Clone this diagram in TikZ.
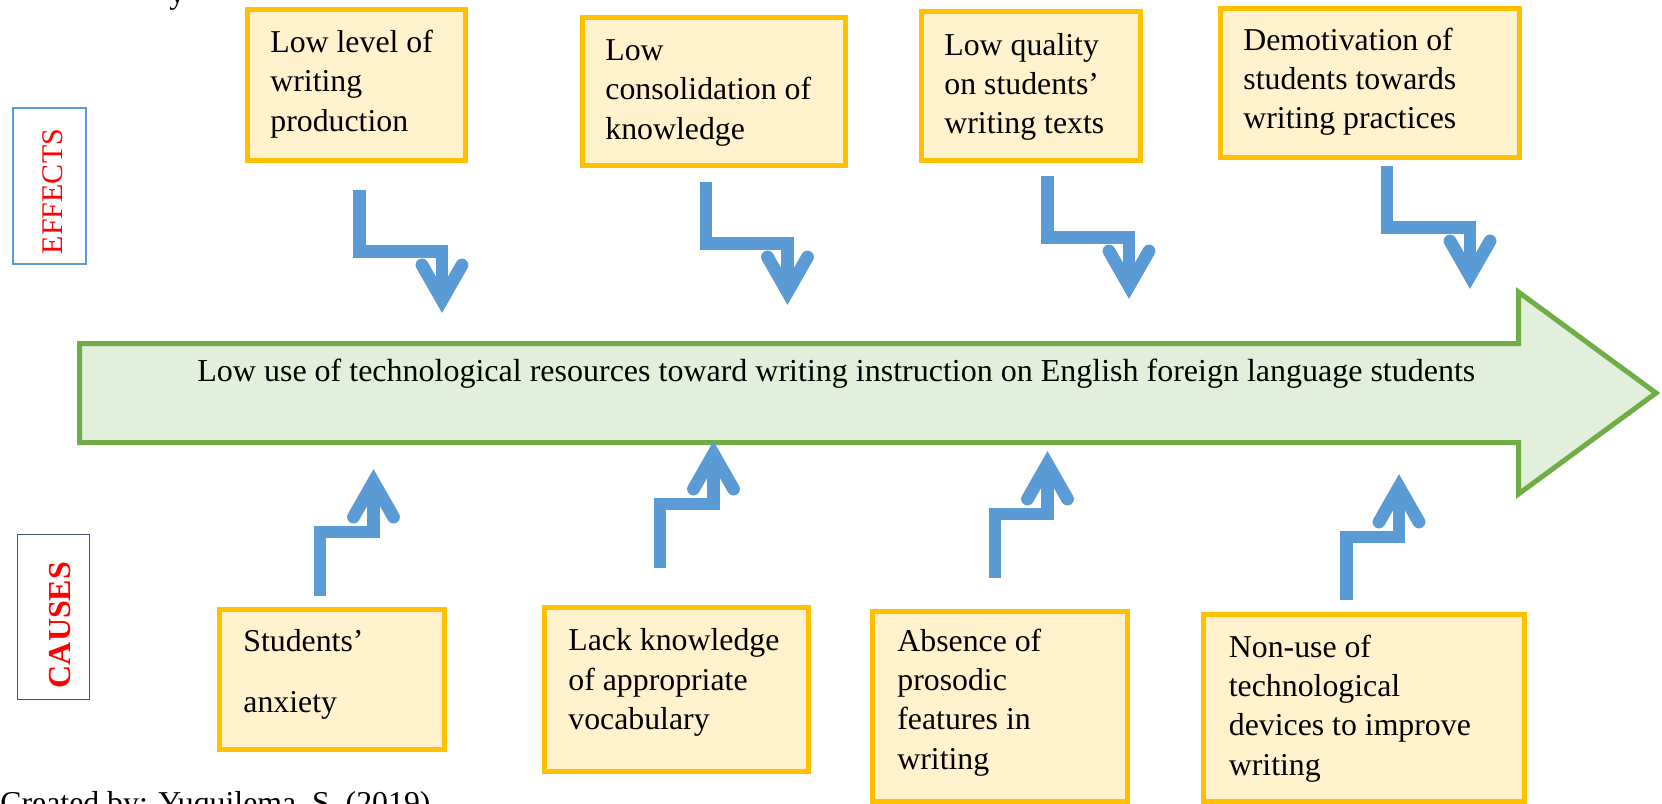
\documentclass[tikz,border=0pt]{standalone}
\usepackage{fontspec}
\setmainfont{Liberation Serif}
\usetikzlibrary{calc,fit}
\definecolor{boxborder}{HTML}{FFC000}
\definecolor{boxfill}{HTML}{FFF2CC}
\definecolor{arrborder}{HTML}{70AD47}
\definecolor{arrfill}{HTML}{E2EFDA}
\definecolor{flowblue}{HTML}{5B9BD5}
\definecolor{slate}{HTML}{44546A}
\newcommand{\downelbow}[1]{%
  \draw[shaft] (#1s) |- ($(#1t)+(0,-13.5)$) -- ($(#1t)+(0,30)$);
  \draw[barbs] ($(#1t)+(-20,0)$) -- ($(#1t)+(0,35)$) -- ($(#1t)+(20,0)$);}
\newcommand{\upelbow}[1]{%
  \draw[shaft] (#1s) |- ($(#1t)+(0,15)$) -- ($(#1t)+(0,-30)$);
  \draw[barbs] ($(#1t)+(-20,0)$) -- ($(#1t)+(0,-35)$) -- ($(#1t)+(20,0)$);}
\begin{document}
\begin{tikzpicture}[x=0.5pt,y=-0.5pt,
  ybox/.style={draw=boxborder, fill=boxfill, line width=2.5pt, inner sep=0pt, outer sep=0pt},
  txt/.style={font=\fontsize{15.9}{19.65}\selectfont, align=left, inner sep=0pt, anchor=base west},
  shaft/.style={draw=flowblue, line width=6.1pt, line join=miter, line cap=butt},
  barbs/.style={draw=flowblue, line width=6.4pt, line join=miter, line cap=round},
  sidebox/.style={line width=0.9pt, inner sep=0pt, outer sep=0pt},
  sidetxt/.style={rotate=90, inner sep=0pt, anchor=base, text=red}]
\useasboundingbox (0,0) rectangle (1662,804);
\fill[white] (0,0) rectangle (1662,804);

% clipped remnants of surrounding text
\node[txt] (topy) at (169,3) {y};
\node[txt] (credit) at (0,813) {Created by: Yuquilema, S. (2019)};

% side labels
\node[sidebox, draw=flowblue, fit={(12.9,107.9)(86.1,264.1)}] (effects) {};
\node[sidetxt, font=\fontsize{15}{18}\selectfont] (effectslbl) at (62,191.5) {EFFECTS};
\node[sidebox, draw=slate, fit={(17.5,534.5)(89.5,699.5)}] (causes) {};
\node[sidetxt, font=\fontsize{16}{19}\selectfont\bfseries] (causeslbl) at (70,625) {CAUSES};

% main arrow
\draw[draw=arrborder, fill=arrfill, line width=2.5pt, line join=miter]
  (79.5,343.5) -- (1518.5,343.5) -- (1518.5,292) -- (1656,393) -- (1518.5,494)
  -- (1518.5,442.5) -- (79.5,442.5) -- cycle;
\node[txt, font=\fontsize{16}{19.65}\selectfont] (goal) at (197,381) {Low use of technological resources toward writing instruction on English foreign language students};

% effects boxes (anchor = baseline of the last line)
\node[ybox, fit={(247.5,9.5)(465.5,160.5)}] (t1) {};
\node[txt] at ($(t1.north west)+(22.5,121.6)$) {Low level of\\writing\\production};
\node[ybox, fit={(582.5,17.5)(845.5,165)}] (t2) {};
\node[txt] at ($(t2.north west)+(22.5,121.6)$) {Low\\consolidation of\\knowledge};
\node[ybox, fit={(921.5,11)(1140,160.5)}] (t3) {};
\node[txt] at ($(t3.north west)+(22.5,122.6)$) {Low quality\\on students’\\writing texts};
\node[ybox, fit={(1220.5,8)(1519.5,157.5)}] (t4) {};
\node[txt] at ($(t4.north west)+(22.5,120.6)$) {Demotivation of\\students towards\\writing practices};

% causes boxes
\node[ybox, fit={(219.5,609.5)(444.5,749.5)}] (b1) {};
\node[txt] at ($(b1.north west)+(23.5,102.5)$) {Students’\\[10.85pt]anxiety};
\node[ybox, fit={(544,607.5)(808.5,771.5)}] (b2) {};
\node[txt] at ($(b2.north west)+(24,122)$) {Lack knowledge\\of appropriate\\vocabulary};
\node[ybox, fit={(872.5,611)(1127.5,801)}] (b3) {};
\node[txt] at ($(b3.north west)+(24.5,158)$) {Absence of\\prosodic\\features in\\writing};
\node[ybox, fit={(1203.5,614)(1524,801)}] (b4) {};
\node[txt] at ($(b4.north west)+(25,161)$) {Non-use of\\technological\\devices to improve\\writing};

% elbow arrows: effects
\coordinate (E1s) at (359.5,190);  \coordinate (E1t) at (442,265);
\coordinate (E2s) at (706,182);    \coordinate (E2t) at (787.5,257);
\coordinate (E3s) at (1047.5,176); \coordinate (E3t) at (1129,251);
\coordinate (E4s) at (1387,166);   \coordinate (E4t) at (1470,241);
\downelbow{E1}\downelbow{E2}\downelbow{E3}\downelbow{E4}

% elbow arrows: causes
\coordinate (C1s) at (320,596);    \coordinate (C1t) at (373.5,517);
\coordinate (C2s) at (660,568);    \coordinate (C2t) at (713.5,489);
\coordinate (C3s) at (995,578);    \coordinate (C3t) at (1047.5,499);
\coordinate (C4s) at (1346.5,600); \coordinate (C4t) at (1399,522);
\upelbow{C1}\upelbow{C2}\upelbow{C3}\upelbow{C4}
\end{tikzpicture}
\end{document}
